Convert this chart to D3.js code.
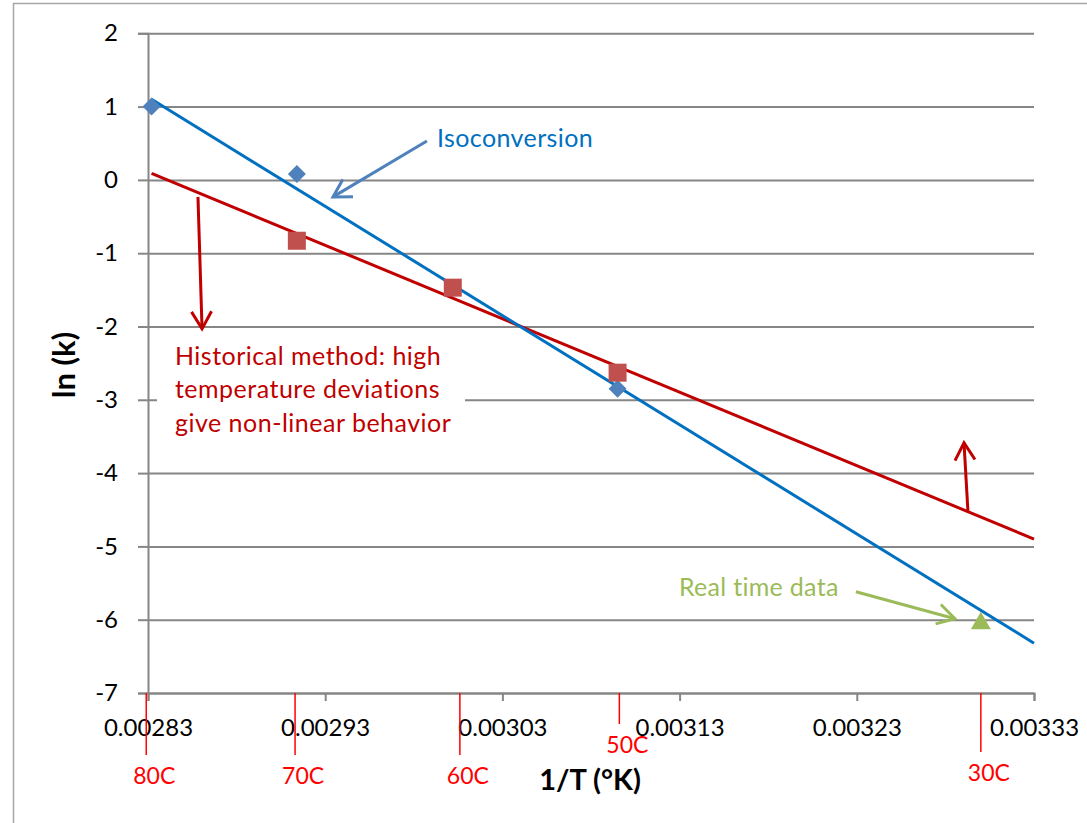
<!DOCTYPE html>
<html>
<head>
<meta charset="utf-8">
<script src="https://cdnjs.cloudflare.com/ajax/libs/d3/7.8.5/d3.min.js"></script>
<style>
  body { margin: 0; background: #fff; }
  svg { display: block; font-family: Lato, 'Open Sans', sans-serif; }
</style>
</head>
<body>
<div id="chart"></div>
<script>
// values
const xTicks = [0.00283, 0.00293, 0.00303, 0.00313, 0.00323, 0.00333];
const yTicks = [2, 1, 0, -1, -2, -3, -4, -5, -6, -7];

// Isoconversion (blue diamonds)
const isoX = [0.002832, 0.002914, 0.003002, 0.003095];
const isoY = [1.0, 0.08, -1.47, -2.85];
// Historical method (red squares)
const histX = [0.002914, 0.003002, 0.003095];
const histY = [-0.83, -1.47, -2.63];
// Real time data (green triangle)
const realX = [0.0033];
const realY = [-6.05];

// trendline end points
const isoTrend = [[0.002832, 1.10], [0.00333, -6.32]];
const histTrend = [[0.002832, 0.09], [0.00333, -4.90]];

// temperature marks under the x axis
const tempLabels = ['80C', '70C', '60C', '50C', '30C'];
const tempX = [0.002829, 0.002913, 0.003006, 0.003096, 0.0033];
const tempLen = [62, 62, 62, 31, 59];

// annotation arrows (data units)
const arrows = [
  { from: [0.0029874, 0.531], to: [0.0029344, -0.232], color: '#4F81BD' },
  { from: [0.0028582, -0.232], to: [0.0028605, -2.032], color: '#C00000' },
  { from: [0.0032927, -4.514], to: [0.0032905, -3.587], color: '#C00000' },
  { from: [0.0032295, -5.619], to: [0.0032854, -5.987], color: '#9BBB59' }
];
const histText = ['Historical method: high', 'temperature deviations', 'give non-linear behavior'];

const W = 1087, H = 823;
const svg = d3.select('#chart').append('svg')
  .attr('width', W).attr('height', H);

const x = d3.scaleLinear().domain([0.00283, 0.00333]).range([148, 1034]);
const y = d3.scaleLinear().domain([-7, 2]).range([693, 33.3]);

// chart frame
svg.append('path')
  .attr('d', `M13.5,${H} L13.5,3.5 L${W},3.5`)
  .attr('fill', 'none').attr('stroke', '#a6a6a6').attr('stroke-width', 1.5);

/* gridlines + y axis */
const yAxis = d3.axisLeft(y).tickValues(yTicks).tickSize(10).tickPadding(20)
  .tickFormat(d => d < 0 ? '-' + Math.abs(d) : d);
const gy = svg.append('g').attr('transform', 'translate(148,0)').call(yAxis);
gy.select('.domain').attr('stroke', '#868686').attr('stroke-width', 2);
gy.selectAll('.tick line').attr('stroke', '#868686').attr('stroke-width', 2);
gy.selectAll('.tick').append('line')
  .attr('x1', 0).attr('x2', 886)
  .attr('stroke', '#868686').attr('stroke-width', 2);
gy.selectAll('.tick text').attr('font-size', 24).attr('fill', '#000')
  .attr('font-family', 'Lato');

/* x axis */
const xAxis = d3.axisBottom(x).tickValues(xTicks).tickSize(8).tickPadding(18)
  .tickFormat(d3.format('.5f'));
const gx = svg.append('g').attr('transform', 'translate(0,693)').call(xAxis);
gx.select('.domain').attr('stroke', '#868686').attr('stroke-width', 2);
gx.selectAll('.tick line').attr('stroke', '#868686').attr('stroke-width', 2);
gx.selectAll('.tick text').attr('font-size', 24).attr('fill', '#000')
  .attr('font-family', 'Lato');

// white box behind the historical note
svg.append('rect')
  .attr('x', x(0.0028351)).attr('y', y(-2.155))
  .attr('width', x(0.0030089) - x(0.0028351))
  .attr('height', y(-3.641) - y(-2.155))
  .attr('fill', '#fff');

/* trendlines */
const line = d3.line().x(d => x(d[0])).y(d => y(d[1]));
svg.append('path').attr('d', line(histTrend))
  .attr('fill', 'none').attr('stroke', '#C00000').attr('stroke-width', 3);
svg.append('path').attr('d', line(isoTrend))
  .attr('fill', 'none').attr('stroke', '#0070C0').attr('stroke-width', 3);

/* markers */
svg.append('g').selectAll('path').data(isoX).join('path')
  .attr('d', d3.symbol(d3.symbolSquare, 162))
  .attr('transform', (d, i) => `translate(${x(d)},${y(isoY[i])}) rotate(45)`)
  .attr('fill', '#4F81BD');
svg.append('g').selectAll('path').data(histX).join('path')
  .attr('d', d3.symbol(d3.symbolSquare, 324))
  .attr('transform', (d, i) => `translate(${x(d)},${y(histY[i])})`)
  .attr('fill', '#C0504D');
svg.append('g').selectAll('path').data(realX).join('path')
  .attr('d', d3.symbol(d3.symbolTriangle, 173))
  .attr('transform', (d, i) => `translate(${x(d)},${y(realY[i])})`)
  .attr('fill', '#9BBB59');

/* arrows */
const arm = 20, ang = Math.PI / 6;
arrows.forEach(a => {
  const x1 = x(a.from[0]), y1 = y(a.from[1]);
  const x2 = x(a.to[0]), y2 = y(a.to[1]);
  const t = Math.atan2(y1 - y2, x1 - x2);
  const g = svg.append('g').attr('stroke', a.color).attr('stroke-width', 3)
    .attr('fill', 'none').attr('stroke-linecap', 'butt');
  g.append('path').attr('d', `M${x1},${y1}L${x2},${y2}`);
  g.append('path').attr('d',
    `M${x2 + arm * Math.cos(t - ang)},${y2 + arm * Math.sin(t - ang)}` +
    `L${x2},${y2}L${x2 + arm * Math.cos(t + ang)},${y2 + arm * Math.sin(t + ang)}`);
});

/* annotation texts */
svg.append('text').attr('x', x(0.0029931)).attr('y', y(0.449))
  .attr('font-size', 25).attr('letter-spacing', 0.4)
  .attr('fill', '#0070C0').text('Isoconversion');
svg.append('text').attr('x', x(0.0031296)).attr('y', y(-5.673))
  .attr('font-size', 25).attr('letter-spacing', 0.3)
  .attr('fill', '#9BBB59').text('Real time data');
svg.append('g').selectAll('text').data(histText).join('text')
  .attr('x', x(0.0028452))
  .attr('y', (d, i) => y(-2.523) + i * 33.5)
  .attr('font-size', 25).attr('letter-spacing', 0.5)
  .attr('fill', '#C00000').text(d => d);

/* temperature marks */
const tm = svg.append('g');
tempX.forEach((t, i) => {
  tm.append('line')
    .attr('x1', x(t)).attr('x2', x(t))
    .attr('y1', 693).attr('y2', 693 + tempLen[i])
    .attr('stroke', '#FF0000').attr('stroke-width', 1.5);
  tm.append('text')
    .attr('x', x(t) + 8).attr('y', 693 + tempLen[i] + 20)
    .attr('dominant-baseline', 'central').attr('text-anchor', 'middle')
    .attr('font-size', 23).attr('fill', '#FF0000').text(tempLabels[i]);
});

/* axis titles */
svg.append('text').attr('x', 590).attr('y', 778)
  .attr('text-anchor', 'middle').attr('dominant-baseline', 'central')
  .attr('font-size', 29).attr('font-weight', 'bold').text('1/T (°K)');
svg.append('text')
  .attr('transform', 'translate(63,365) rotate(-90)')
  .attr('text-anchor', 'middle').attr('dominant-baseline', 'central')
  .attr('font-size', 31).attr('font-weight', 'bold').text('ln (k)');
</script>
</body>
</html>
